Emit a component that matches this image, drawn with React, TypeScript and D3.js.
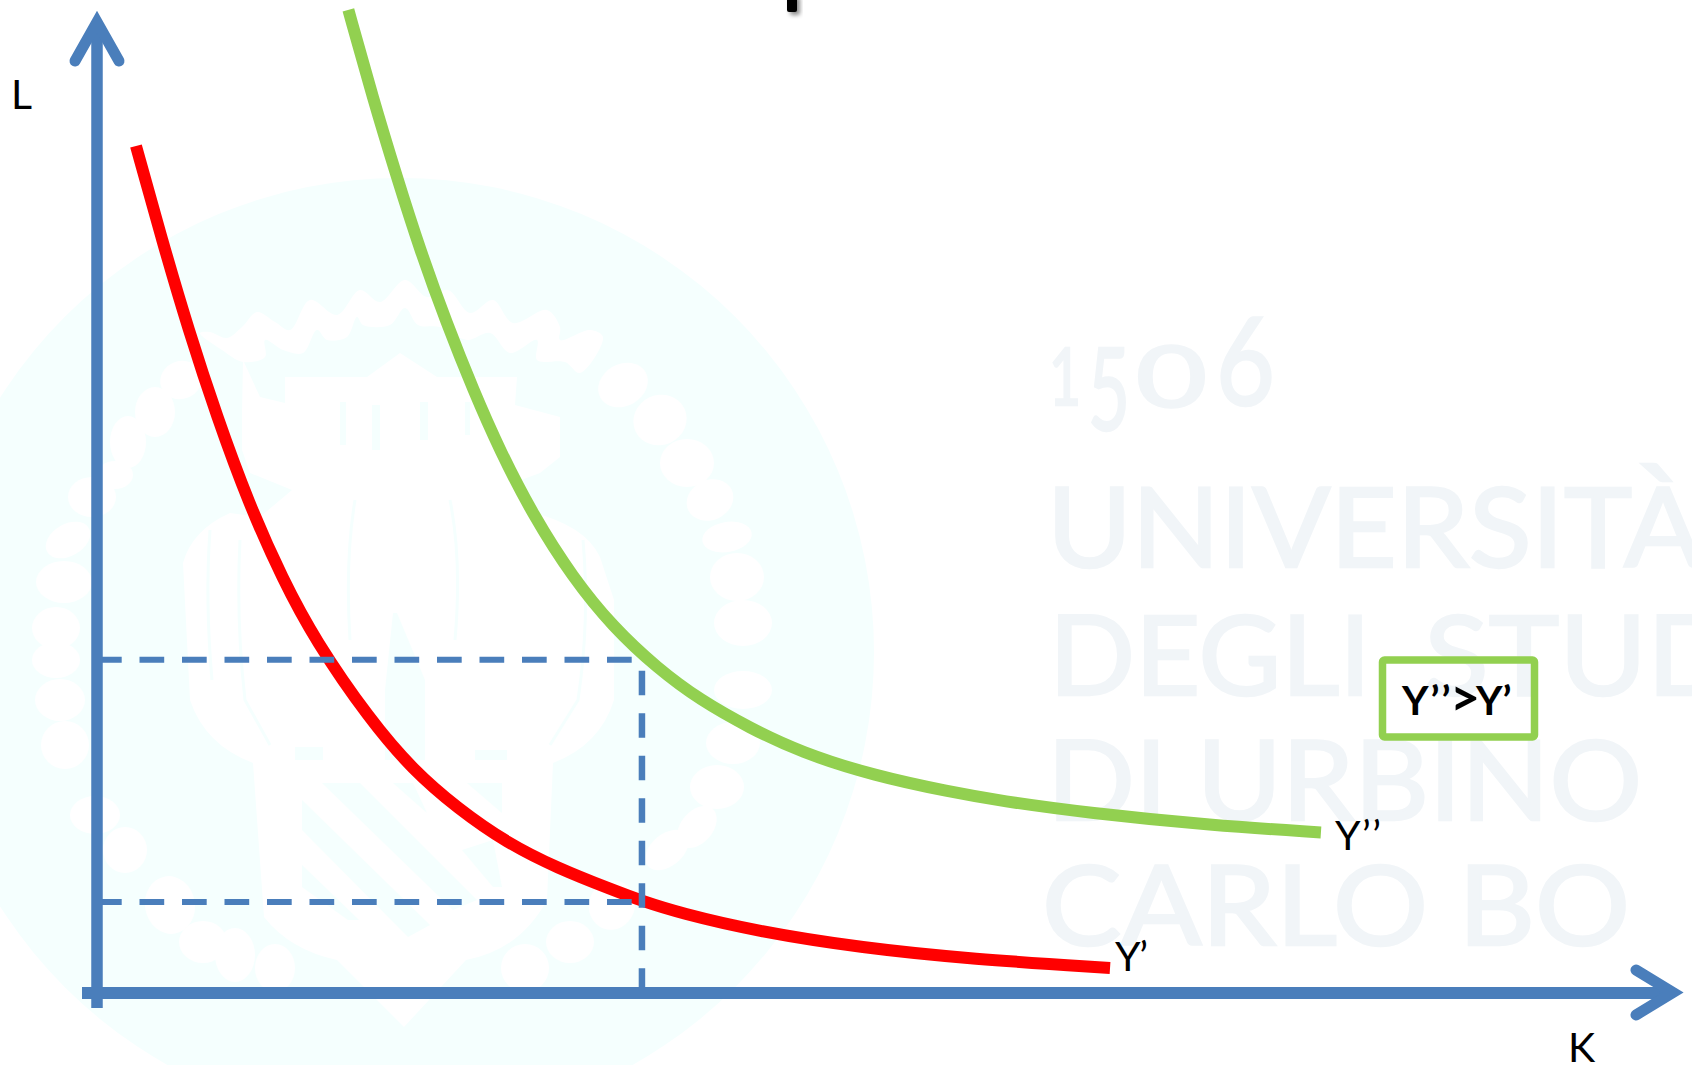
import React from "react";
import * as d3 from "d3";

// Isoquant values in capital (K) and labour (L) units
const redK = [2.476, 4.127, 5.81, 7.619, 9.619, 11.81, 13.84, 17.33, 20.06, 22.86, 26.03, 29.21, 32.76, 34.6, 37.02, 41.78, 48.63, 55.49, 64.32];
const redL = [86.43, 76.84, 67.65, 58.78, 50.0, 42.14, 36.02, 27.86, 22.76, 18.88, 15.31, 12.76, 10.51, 9.39, 8.16, 6.33, 4.59, 3.47, 2.55];
const greenK = [15.96, 17.54, 19.03, 20.51, 22.2, 23.89, 25.59, 27.68, 30.22, 32.76, 35.56, 38.29, 41.46, 44.63, 49.4, 54.16, 57.33, 62.92, 70.79, 77.71];
const greenL = [100.31, 91.19, 83.3, 75.82, 68.34, 61.53, 55.31, 48.78, 42.35, 37.35, 33.16, 29.9, 27.04, 24.59, 22.14, 20.53, 19.61, 18.37, 17.1, 16.38];

// Input combination marked by the dashed guides
const guideK = 34.6;
const guideLevels = [34, 9.29];

const axisLabels = { x: "K", y: "L" };
const curveLabels = { low: "Y’", high: "Y’’" };
const comparisonParts = ["Y’’", ">", "Y’"];

// University emblem drawn faintly behind the diagram
const wreath: number[][] = [
  [181, 380, 21, 19, -20], [155, 412, 20, 25, 0], [128, 442, 18, 26, 0], [115, 475, 18, 14, 0],
  [92, 497, 24, 20, 0], [68, 540, 24, 16, -30], [64, 582, 28, 21, 0], [56, 628, 24, 21, 0],
  [56, 660, 24, 18, 0], [60, 700, 25, 21, 0], [65, 745, 24, 24, 0], [95, 815, 25, 19, 0],
  [125, 850, 22, 23, 0], [170, 905, 25, 29, -10], [203, 942, 24, 21, 0], [235, 955, 20, 27, 0],
  [275, 968, 20, 24, 0], [525, 968, 24, 24, 0], [570, 942, 24, 21, 0], [612, 905, 23, 25, 20],
  [667, 850, 25, 16, -40], [697, 827, 24, 16, -50], [717, 787, 27, 22, 0], [733, 743, 27, 21, 0],
  [743, 690, 29, 19, 0], [743, 623, 29, 23, 0], [737, 577, 27, 24, 0], [727, 537, 25, 15, -10],
  [710, 500, 24, 20, -25], [687, 463, 27, 24, 0], [660, 420, 27, 25, -25], [623, 385, 26, 21, -30],
];
const crownOutline: [number, number][] = [
  [200, 333], [210, 332], [227, 338], [242, 327], [257, 312], [275, 322], [290, 330], [310, 300],
  [337, 315], [360, 290], [380, 302], [405, 280], [427, 297], [448, 290], [470, 313], [493, 300],
  [513, 323], [547, 310], [560, 327], [560, 340], [590, 330], [603, 337], [580, 373], [565, 362],
  [537, 360], [537, 340], [510, 353], [490, 333], [467, 340], [440, 327], [418, 325], [405, 308],
  [390, 325], [363, 325], [357, 317], [347, 337], [327, 340], [317, 330], [303, 353], [283, 350],
  [265, 340], [265, 357], [243, 362], [222, 350],
];
const emblemBody =
  "M243 360 L260 397 L285 403 L285 377 L367 377 L400 353 L437 377 L517 377 L515 405 L560 417 L560 457 L540 473 L513 483 " +
  "L530 512 Q585 525 600 557 L614 600 L614 700 Q600 745 553 763 L547 900 Q520 950 466 960 L404 1027 L337 960 " +
  "Q290 950 264 917 L253 763 Q205 745 190 700 L183 563 Q192 530 230 513 L260 517 L292 490 L250 473 L242 450 L242 413 Z";
const emblemShades = [
  "M322 783 L360 783 L477 900 L453 910 Z",
  "M302 800 L302 830 L408 937 L430 925 Z",
  "M302 865 L302 887 L348 920 L359 920 Z",
  "M393 783 L413 783 L427 813 Z",
  "M467 783 L502 783 L502 813 Z",
  "M462 850 L493 840 L502 887 L493 887 Z",
  "M295 747 L323 747 L323 760 L295 760 Z",
  "M475 750 L507 750 L507 760 L475 760 Z",
  "M340 402 L346 402 L346 445 L340 445 Z",
  "M372 405 L380 405 L380 450 L372 450 Z",
  "M420 402 L428 402 L428 440 L420 440 Z",
  "M465 402 L470 402 L470 435 L465 435 Z",
  "M393 613 L397 613 L425 680 L425 760 L385 760 L385 690 Z",
];
const emblemLines = [
  "M210 530 Q205 600 212 680",
  "M240 540 Q236 620 245 700 L270 745",
  "M583 540 Q590 620 578 700 L550 745",
  "M355 500 Q345 560 350 640",
  "M450 500 Q462 560 455 640",
];

const wordmark = [
  { text: "UNIVERSITÀ", y: 567, x: 1047, w: 655 },
  { text: "DEGLI", y: 695, x: 1049, w: 322 },
  { text: "STUDI", y: 695, x: 1424, w: 347 },
  { text: "DI URBINO", y: 820, x: 1047, w: 595 },
  { text: "CARLO BO", y: 945, x: 1042, w: 588 },
];
const foundingDigits = [
  { d: "1", x: 1049, w: 32, size: 80, y: 405 },
  { d: "5", x: 1088, w: 42, size: 114, y: 430 },
  { d: "0", x: 1136, w: 71, size: 86, y: 407 },
  { d: "6", x: 1216, w: 59, size: 122, y: 405 },
];

const WIDTH = 1692;
const HEIGHT = 1065;
const BLUE = "#4A7EBB";
const GREEN = "#92D050";
const RED = "#FF0000";
const SEAL = "#F5FFFE";
const FONT = "Lato, 'Open Sans', sans-serif";

const x = d3.scaleLinear().domain([0, 100]).range([97, 1672]);
const y = d3.scaleLinear().domain([0, 100]).range([993, 13]);

const curve = d3
  .line<[number, number]>()
  .x((d) => x(d[0]))
  .y((d) => y(d[1]))
  .curve(d3.curveBasis);

const crownPath = d3.line().curve(d3.curveCatmullRomClosed.alpha(0.5))(crownOutline) ?? "";

const pairs = (ks: number[], ls: number[]) => ks.map((k, i) => [k, ls[i]] as [number, number]);

export default function App() {
  const gx = x(guideK);
  return (
    <svg
      width={WIDTH}
      height={HEIGHT}
      viewBox={`0 0 ${WIDTH} ${HEIGHT}`}
      style={{ position: "absolute", left: 0, top: 0, background: "#fff" }}
      fontFamily={FONT}
    >
      <defs>
        <filter id="soft" x="-60%" y="-60%" width="220%" height="220%">
          <feDropShadow dx="3" dy="3" stdDeviation="2" floodColor="#000" floodOpacity="0.45" />
        </filter>
      </defs>

      {/* emblem */}
      <g>
        <circle cx={400} cy={652} r={474} fill={SEAL} />
        <g fill="#fff">
          {wreath.map(([cx, cy, rx, ry, rot], i) => (
            <ellipse key={i} cx={cx} cy={cy} rx={rx} ry={ry} transform={`rotate(${rot} ${cx} ${cy})`} />
          ))}
          <path d={crownPath} />
          <path d={emblemBody} />
        </g>
        <g fill={SEAL}>
          {emblemShades.map((d, i) => (
            <path key={i} d={d} />
          ))}
        </g>
        <g fill="none" stroke={SEAL} strokeWidth={3}>
          {emblemLines.map((d, i) => (
            <path key={i} d={d} />
          ))}
        </g>
      </g>

      {/* wordmark */}
      <g fill="#F1F5F8" stroke="#F1F5F8" strokeWidth={2.5}>
        {foundingDigits.map((g) => (
          <text key={g.d} x={g.x} y={g.y} fontSize={g.size} textLength={g.w} lengthAdjust="spacingAndGlyphs">
            {g.d}
          </text>
        ))}
        {wordmark.map((l) => (
          <text key={l.text} x={l.x} y={l.y} fontSize={111} textLength={l.w} lengthAdjust="spacingAndGlyphs">
            {l.text}
          </text>
        ))}
      </g>

      {/* fragment of the heading cut by the top edge */}
      <rect x={787} y={-6} width={10} height={18} rx={2} fill="#000" filter="url(#soft)" />

      {/* isoquants */}
      <path d={curve(pairs(redK, redL)) ?? ""} fill="none" stroke={RED} strokeWidth={12} />
      <path d={curve(pairs(greenK, greenL)) ?? ""} fill="none" stroke={GREEN} strokeWidth={12} />

      {/* dashed guides */}
      <g stroke={BLUE} strokeWidth={6} fill="none">
        {guideLevels.map((l) => (
          <line key={l} x1={x(0)} x2={gx - 9.5} y1={y(l)} y2={y(l)} strokeDasharray="24.7 17.8" />
        ))}
        <line x1={gx} x2={gx} y1={y(guideLevels[0]) + 11} y2={y(0) - 6} strokeWidth={6.5} strokeDasharray="24.5 18" />
      </g>

      {/* axes */}
      <g stroke={BLUE} fill="none" strokeMiterlimit={10}>
        <line x1={x(0)} x2={x(0)} y1={1008} y2={30} strokeWidth={11.5} />
        <line x1={82} x2={1668} y1={y(0)} y2={y(0)} strokeWidth={12} />
        <polyline points="75,61 97,22 119,61" strokeWidth={11} strokeLinecap="round" />
        <polyline points="1636,970 1673,992.5 1636,1015" strokeWidth={11} strokeLinecap="round" />
      </g>

      {/* labels */}
      <g fill="#000" fontSize={41}>
        <text x={11} y={109}>{axisLabels.y}</text>
        <text x={1568} y={1062}>{axisLabels.x}</text>
        <text x={1115} y={971} textLength={33} lengthAdjust="spacing">{curveLabels.low}</text>
        <text x={1335} y={850} textLength={46} lengthAdjust="spacing">{curveLabels.high}</text>
      </g>

      {/* comparison box */}
      <rect x={1382.5} y={660} width={152} height={77} rx={2} fill="none" stroke={GREEN} strokeWidth={7.5} />
      <text y={715} fontSize={41} fontWeight={700} fill="#000">
        <tspan x={1402} letterSpacing={2}>{comparisonParts[0]}</tspan>
        <tspan x={1450} fontSize={52} dy={1}>{comparisonParts[1]}</tspan>
        <tspan x={1476} dy={-1}>{comparisonParts[2]}</tspan>
      </text>
    </svg>
  );
}
